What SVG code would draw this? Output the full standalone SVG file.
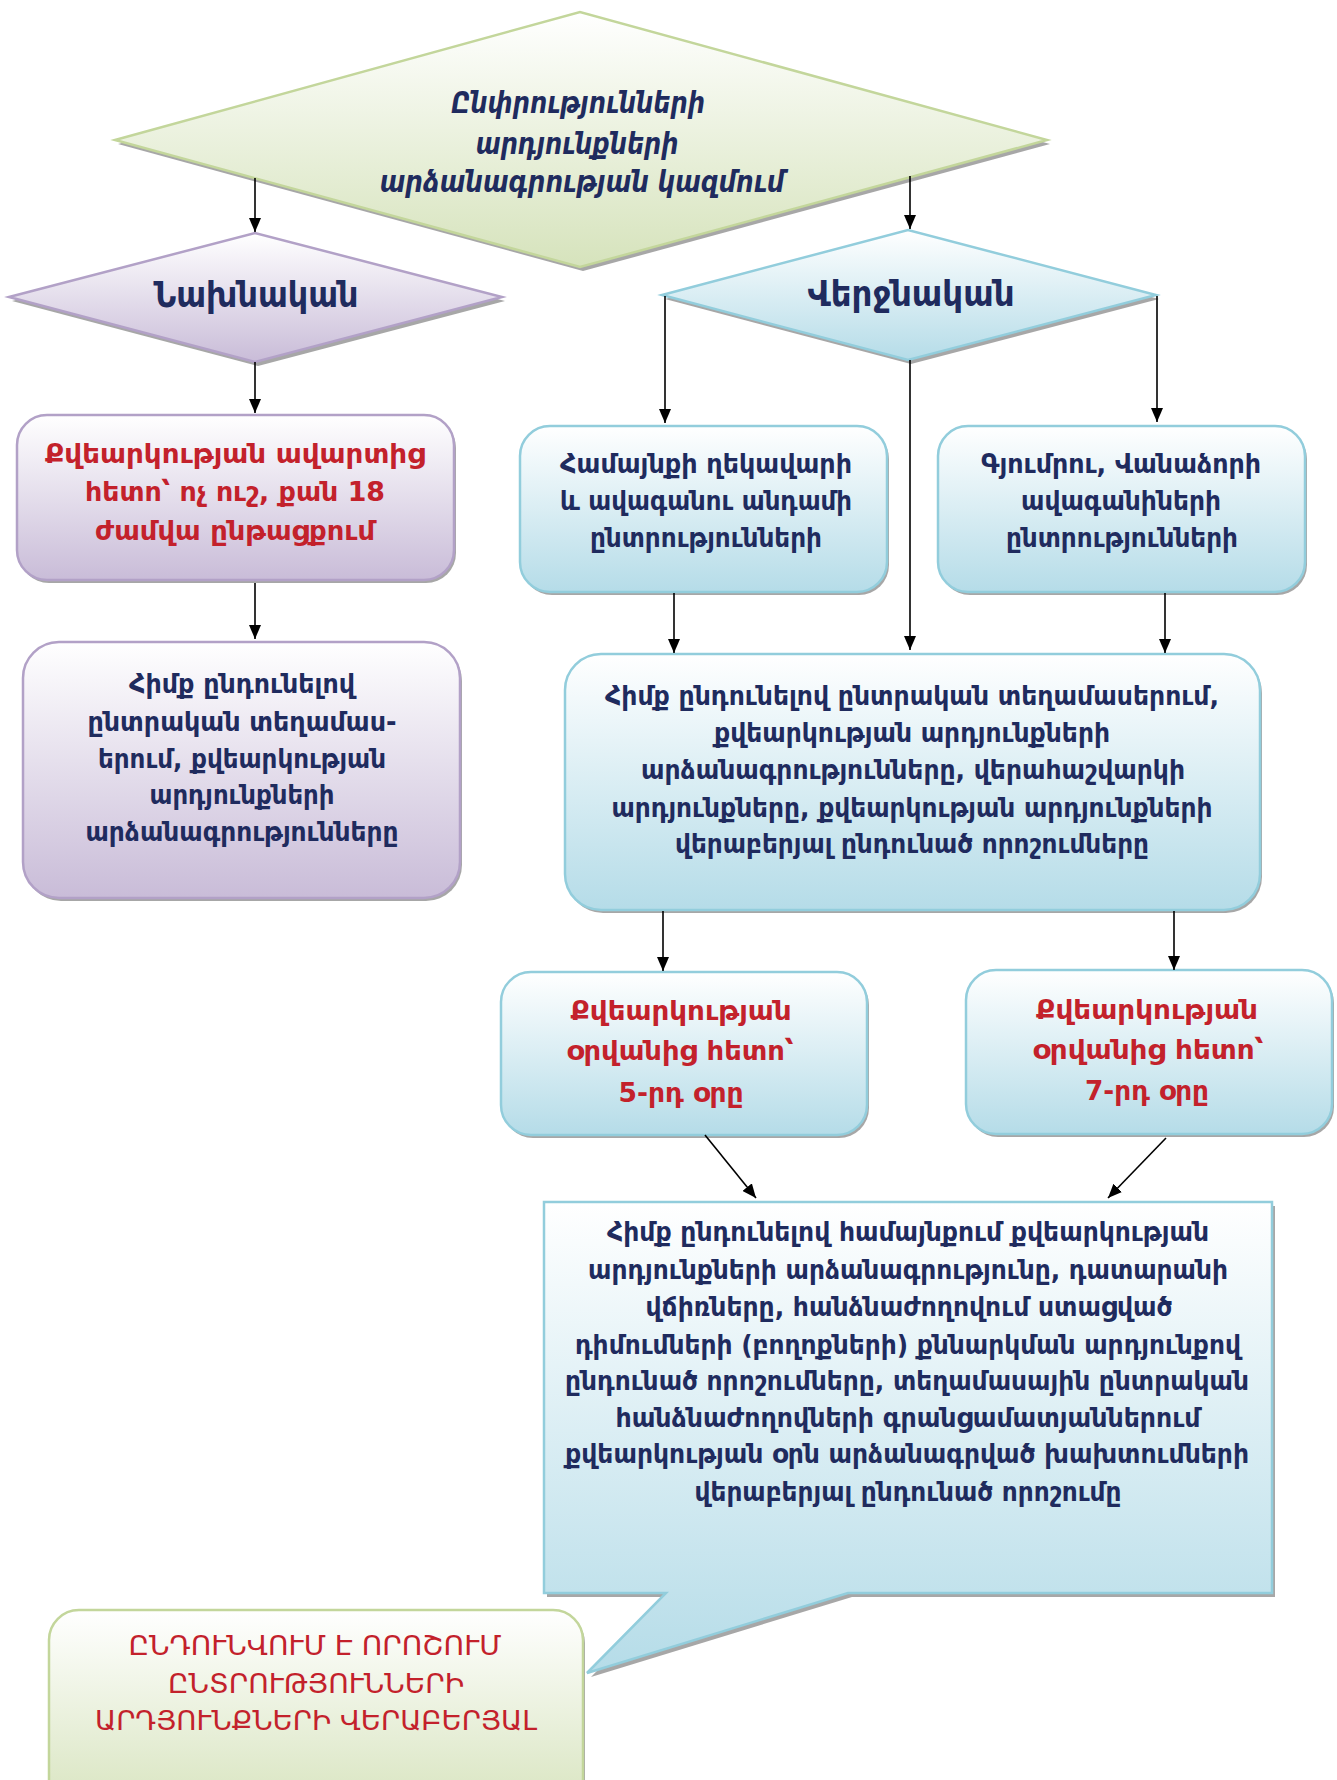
<svg xmlns="http://www.w3.org/2000/svg" width="1337" height="1780" viewBox="0 0 1337 1780">
<defs>
<linearGradient id="gG" x1="0" y1="0" x2="0" y2="1"><stop offset="0" stop-color="#ffffff"/><stop offset="1" stop-color="#d6e3bc"/></linearGradient>
<linearGradient id="gP" x1="0" y1="0" x2="0" y2="1"><stop offset="0" stop-color="#ffffff"/><stop offset="1" stop-color="#c9bcd8"/></linearGradient>
<linearGradient id="gB" x1="0" y1="0" x2="0" y2="1"><stop offset="0" stop-color="#ffffff"/><stop offset="1" stop-color="#b5dce8"/></linearGradient>
<marker id="ah" viewBox="0 0 14 12" refX="14" refY="6" markerWidth="14" markerHeight="12" markerUnits="userSpaceOnUse" orient="auto"><path d="M0,0 L14,6 L0,12 Z" fill="#000"/></marker>
</defs>
<style>
.sh{fill:#8a8a8a;opacity:0.75}
.g{fill:url(#gG);stroke:#c3d69b;stroke-width:2.5}
.p{fill:url(#gP);stroke:#b2a1c7;stroke-width:2.5}
.b{fill:url(#gB);stroke:#92cddc;stroke-width:2.5}
text{font-family:"DejaVu Sans Condensed","DejaVu Sans","Noto Sans",sans-serif;text-anchor:middle;font-weight:bold}
.n{fill:#1f2b5e;font-size:26px}
.r{fill:#c3212b;font-size:26px}
.rb{fill:#c3212b;font-size:27px}
.it{fill:#1f2b5e;font-size:30px;font-style:italic}
.d{fill:#1f2b5e;font-size:35px}
.up{fill:#c3212b;font-size:26px;font-weight:normal}
.c line{stroke:#000;stroke-width:1.6;marker-end:url(#ah)}
</style>

<g id="node-top">
<path class="sh" d="M118,144 L583,16 L1050,144 L583,271 Z"/>
<path class="g" d="M115,140 L580,12 L1047,140 L580,267 Z"/>
<text class="it" x="578" y="113" textLength="254" lengthAdjust="spacingAndGlyphs">Ընփրությունների</text>
<text class="it" x="577" y="154" textLength="203" lengthAdjust="spacingAndGlyphs">արդյունքների</text>
<text class="it" x="582" y="192" textLength="405" lengthAdjust="spacingAndGlyphs">արձանագրության կազմում</text>
</g>

<g id="node-nakhnakan">
<path class="sh" d="M12,301 L258,237 L505,301 L258,366 Z"/>
<path class="p" d="M9,297 L255,233 L502,297 L255,362 Z"/>
<text class="d" x="256" y="307" textLength="205" lengthAdjust="spacingAndGlyphs">Նախնական</text>
</g>

<g id="node-verjnakan">
<path class="sh" d="M665,299 L911,234 L1159,299 L911,364 Z"/>
<path class="b" d="M662,295 L908,230 L1156,295 L908,360 Z"/>
<text class="d" x="911" y="306" textLength="207" lengthAdjust="spacingAndGlyphs">Վերջնական</text>
</g>

<g id="node-p1">
<rect class="sh" x="19" y="418" width="437" height="165" rx="30"/>
<rect class="p" x="17" y="415" width="437" height="165" rx="30"/>
<text class="r" x="235" y="463" textLength="380" lengthAdjust="spacingAndGlyphs">Քվեարկության ավարտից</text>
<text class="r" x="235" y="501" textLength="300" lengthAdjust="spacingAndGlyphs">հետո՝ ոչ ուշ, քան 18</text>
<text class="r" x="235" y="540" textLength="280" lengthAdjust="spacingAndGlyphs">ժամվա ընթացքում</text>
</g>

<g id="node-p2">
<rect class="sh" x="25" y="645" width="437" height="256" rx="36"/>
<rect class="p" x="23" y="642" width="437" height="256" rx="36"/>
<text class="n" x="242" y="693" textLength="226" lengthAdjust="spacingAndGlyphs">Հիմք ընդունելով</text>
<text class="n" x="242" y="731" textLength="309" lengthAdjust="spacingAndGlyphs">ընտրական տեղամաս-</text>
<text class="n" x="242" y="768" textLength="288" lengthAdjust="spacingAndGlyphs">երում, քվեարկության</text>
<text class="n" x="242" y="804" textLength="185" lengthAdjust="spacingAndGlyphs">արդյունքների</text>
<text class="n" x="242" y="841" textLength="313" lengthAdjust="spacingAndGlyphs">արձանագրությունները</text>
</g>

<g id="node-hamaynq">
<rect class="sh" x="522" y="429" width="367" height="166" rx="30"/>
<rect class="b" x="520" y="426" width="367" height="166" rx="30"/>
<text class="n" x="706" y="473" textLength="292" lengthAdjust="spacingAndGlyphs">Համայնքի ղեկավարի</text>
<text class="n" x="706" y="510" textLength="292" lengthAdjust="spacingAndGlyphs">և ավագանու անդամի</text>
<text class="n" x="706" y="547" textLength="232" lengthAdjust="spacingAndGlyphs">ընտրությունների</text>
</g>

<g id="node-gyumri">
<rect class="sh" x="940" y="429" width="367" height="166" rx="30"/>
<rect class="b" x="938" y="426" width="367" height="166" rx="30"/>
<text class="n" x="1121" y="473" textLength="280" lengthAdjust="spacingAndGlyphs">Գյումրու, Վանաձորի</text>
<text class="n" x="1121" y="510" textLength="200" lengthAdjust="spacingAndGlyphs">ավագանիների</text>
<text class="n" x="1122" y="547" textLength="232" lengthAdjust="spacingAndGlyphs">ընտրությունների</text>
</g>

<g id="node-big">
<rect class="sh" x="567" y="657" width="695" height="256" rx="36"/>
<rect class="b" x="565" y="654" width="695" height="256" rx="36"/>
<text class="n" x="912" y="705" textLength="614" lengthAdjust="spacingAndGlyphs">Հիմք ընդունելով ընտրական տեղամասերում,</text>
<text class="n" x="912" y="742" textLength="396" lengthAdjust="spacingAndGlyphs">քվեարկության արդյունքների</text>
<text class="n" x="913" y="779" textLength="544" lengthAdjust="spacingAndGlyphs">արձանագրությունները, վերահաշվարկի</text>
<text class="n" x="912" y="817" textLength="601" lengthAdjust="spacingAndGlyphs">արդյունքները, քվեարկության արդյունքների</text>
<text class="n" x="912" y="853" textLength="474" lengthAdjust="spacingAndGlyphs">վերաբերյալ ընդունած որոշումները</text>
</g>

<g id="node-day5">
<rect class="sh" x="503" y="975" width="366" height="163" rx="30"/>
<rect class="b" x="501" y="972" width="366" height="163" rx="30"/>
<text class="rb" x="681" y="1020" textLength="221" lengthAdjust="spacingAndGlyphs">Քվեարկության</text>
<text class="rb" x="680" y="1060" textLength="227" lengthAdjust="spacingAndGlyphs">օրվանից հետո՝</text>
<text class="rb" x="681" y="1102" textLength="125" lengthAdjust="spacingAndGlyphs">5-րդ օրը</text>
</g>

<g id="node-day7">
<rect class="sh" x="968" y="973" width="366" height="164" rx="30"/>
<rect class="b" x="966" y="970" width="366" height="164" rx="30"/>
<text class="rb" x="1147" y="1019" textLength="222" lengthAdjust="spacingAndGlyphs">Քվեարկության</text>
<text class="rb" x="1148" y="1059" textLength="231" lengthAdjust="spacingAndGlyphs">օրվանից հետո՝</text>
<text class="rb" x="1147" y="1100" textLength="124" lengthAdjust="spacingAndGlyphs">7-րդ օրը</text>
</g>

<g id="node-callout">
<path class="sh" d="M547,1206 H1275 V1597 H852 L591,1677 L669,1597 H547 Z"/>
<path class="b" stroke-linejoin="miter" d="M544,1202 H1272 V1593 H848 L587,1673 L666,1593 H544 Z"/>
<text class="n" x="908" y="1241" textLength="602" lengthAdjust="spacingAndGlyphs">Հիմք ընդունելով համայնքում քվեարկության</text>
<text class="n" x="908" y="1279" textLength="640" lengthAdjust="spacingAndGlyphs">արդյունքների արձանագրությունը, դատարանի</text>
<text class="n" x="909" y="1316" textLength="527" lengthAdjust="spacingAndGlyphs">վճիռները, հանձնաժողովում ստացված</text>
<text class="n" x="908" y="1354" textLength="666" lengthAdjust="spacingAndGlyphs">դիմումների (բողոքների) քննարկման արդյունքով</text>
<text class="n" x="907" y="1390" textLength="684" lengthAdjust="spacingAndGlyphs">ընդունած որոշումները, տեղամասային ընտրական</text>
<text class="n" x="908" y="1427" textLength="585" lengthAdjust="spacingAndGlyphs">հանձնաժողովների գրանցամատյաններում</text>
<text class="n" x="907" y="1463" textLength="684" lengthAdjust="spacingAndGlyphs">քվեարկության օրն արձանագրված խախտումների</text>
<text class="n" x="908" y="1501" textLength="427" lengthAdjust="spacingAndGlyphs">վերաբերյալ ընդունած որոշումը</text>
</g>

<g id="node-final">
<rect class="sh" x="51" y="1613" width="534" height="210" rx="30"/>
<rect class="g" x="49" y="1610" width="534" height="210" rx="30"/>
<text class="up" x="315" y="1655" textLength="373" lengthAdjust="spacingAndGlyphs">ԸՆԴՈՒՆՎՈՒՄ Է ՈՐՈՇՈՒՄ</text>
<text class="up" x="316" y="1693" textLength="296" lengthAdjust="spacingAndGlyphs">ԸՆՏՐՈՒԹՅՈՒՆՆԵՐԻ</text>
<text class="up" x="316" y="1730" textLength="442" lengthAdjust="spacingAndGlyphs">ԱՐԴՅՈՒՆՔՆԵՐԻ ՎԵՐԱԲԵՐՅԱԼ</text>
</g>

<g id="connectors" class="c">
<line x1="255" y1="178" x2="255" y2="232"/>
<line x1="910" y1="176" x2="910" y2="229"/>
<line x1="255" y1="362" x2="255" y2="413"/>
<line x1="665" y1="296" x2="665" y2="423"/>
<line x1="1157" y1="296" x2="1157" y2="422"/>
<line x1="910" y1="360" x2="910" y2="650"/>
<line x1="255" y1="583" x2="255" y2="639"/>
<line x1="674" y1="593" x2="674" y2="653"/>
<line x1="1165" y1="593" x2="1165" y2="653"/>
<line x1="663" y1="911" x2="663" y2="971"/>
<line x1="1174" y1="911" x2="1174" y2="970"/>
<line x1="705" y1="1135" x2="756" y2="1198"/>
<line x1="1166" y1="1138" x2="1108" y2="1198"/>
</g>
</svg>
